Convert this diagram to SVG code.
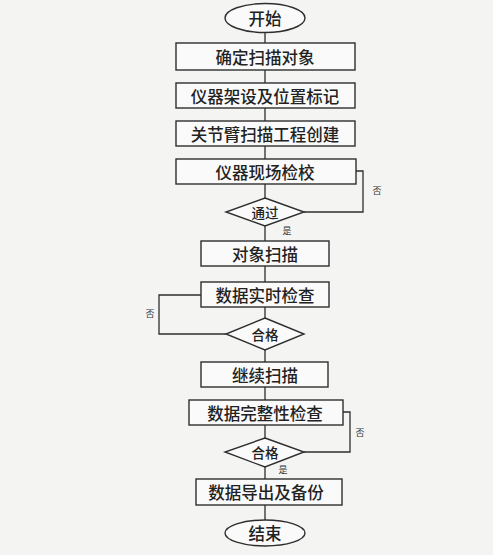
<svg xmlns="http://www.w3.org/2000/svg" width="493" height="555" viewBox="0 0 493 555">
<style>
.shape{fill:#fafafa;stroke:#2e2e2e;stroke-width:1.4}
.conn{fill:none;stroke:#2e2e2e;stroke-width:1.3}
.t{font-family:"Noto Sans CJK SC","Noto Sans",sans-serif;font-size:16.5px;font-weight:500;fill:#222;text-anchor:middle;dominant-baseline:central}
.d{font-size:13.5px}
.s{font-family:"Noto Sans CJK SC","Noto Sans",sans-serif;font-size:9px;fill:#333;text-anchor:middle;dominant-baseline:central}
</style>
<rect width="493" height="555" fill="#f4f4f2"/>
<g id="connectors">
<path class="conn" d="M265 33V43M265 70V83M265 108V121M265 146V159M265 184V198M265 226V241M265 266V282M265 307V318M265 350V362M265 387V400M265 425V438M265 467V479M265 505V520"/>
<path class="conn" d="M356 171H363V212H304"/>
<path class="conn" d="M201 295H159V334H226"/>
<path class="conn" d="M343 412H350V452H304"/>
<text class="s" x="377" y="190">否</text>
<text class="s" x="287" y="230">是</text>
<text class="s" x="150" y="313">否</text>
<text class="s" x="360" y="432">否</text>
<text class="s" x="283" y="469">是</text>
</g>
<g id="start"><ellipse class="shape" cx="265" cy="18" rx="40" ry="14.5"/><text class="t" x="265" y="18">开始</text></g>
<g id="n1"><rect class="shape" x="176" y="43" width="179" height="27"/><text class="t" x="265" y="56.5">确定扫描对象</text></g>
<g id="n2"><rect class="shape" x="176" y="83" width="179" height="25"/><text class="t" x="265" y="95.5">仪器架设及位置标记</text></g>
<g id="n3"><rect class="shape" x="176" y="121" width="179" height="25"/><text class="t" x="265" y="133.5">关节臂扫描工程创建</text></g>
<g id="n4"><rect class="shape" x="176" y="159" width="180" height="25"/><text class="t" x="265" y="171.5">仪器现场检校</text></g>
<g id="d1"><polygon class="shape" points="265,198 304,212 265,226 226,212"/><text class="t d" x="265" y="212">通过</text></g>
<g id="n5"><rect class="shape" x="201" y="241" width="128" height="25"/><text class="t" x="265" y="253.5">对象扫描</text></g>
<g id="n6"><rect class="shape" x="201" y="282" width="128" height="25"/><text class="t" x="265" y="294.5">数据实时检查</text></g>
<g id="d2"><polygon class="shape" points="265,318 304,334 265,350 226,334"/><text class="t d" x="265" y="334">合格</text></g>
<g id="n7"><rect class="shape" x="201" y="362" width="127" height="25"/><text class="t" x="265" y="374.5">继续扫描</text></g>
<g id="n8"><rect class="shape" x="189" y="400" width="154" height="25"/><text class="t" x="265" y="412.5">数据完整性检查</text></g>
<g id="d3"><polygon class="shape" points="265,438 304,452 265,467 225,452"/><text class="t d" x="265" y="452">合格</text></g>
<g id="n9"><rect class="shape" x="196" y="479" width="146" height="26"/><text class="t" x="266" y="492">数据导出及备份</text></g>
<g id="end"><ellipse class="shape" cx="265" cy="533" rx="40" ry="13"/><text class="t" x="265" y="533">结束</text></g>
</svg>
